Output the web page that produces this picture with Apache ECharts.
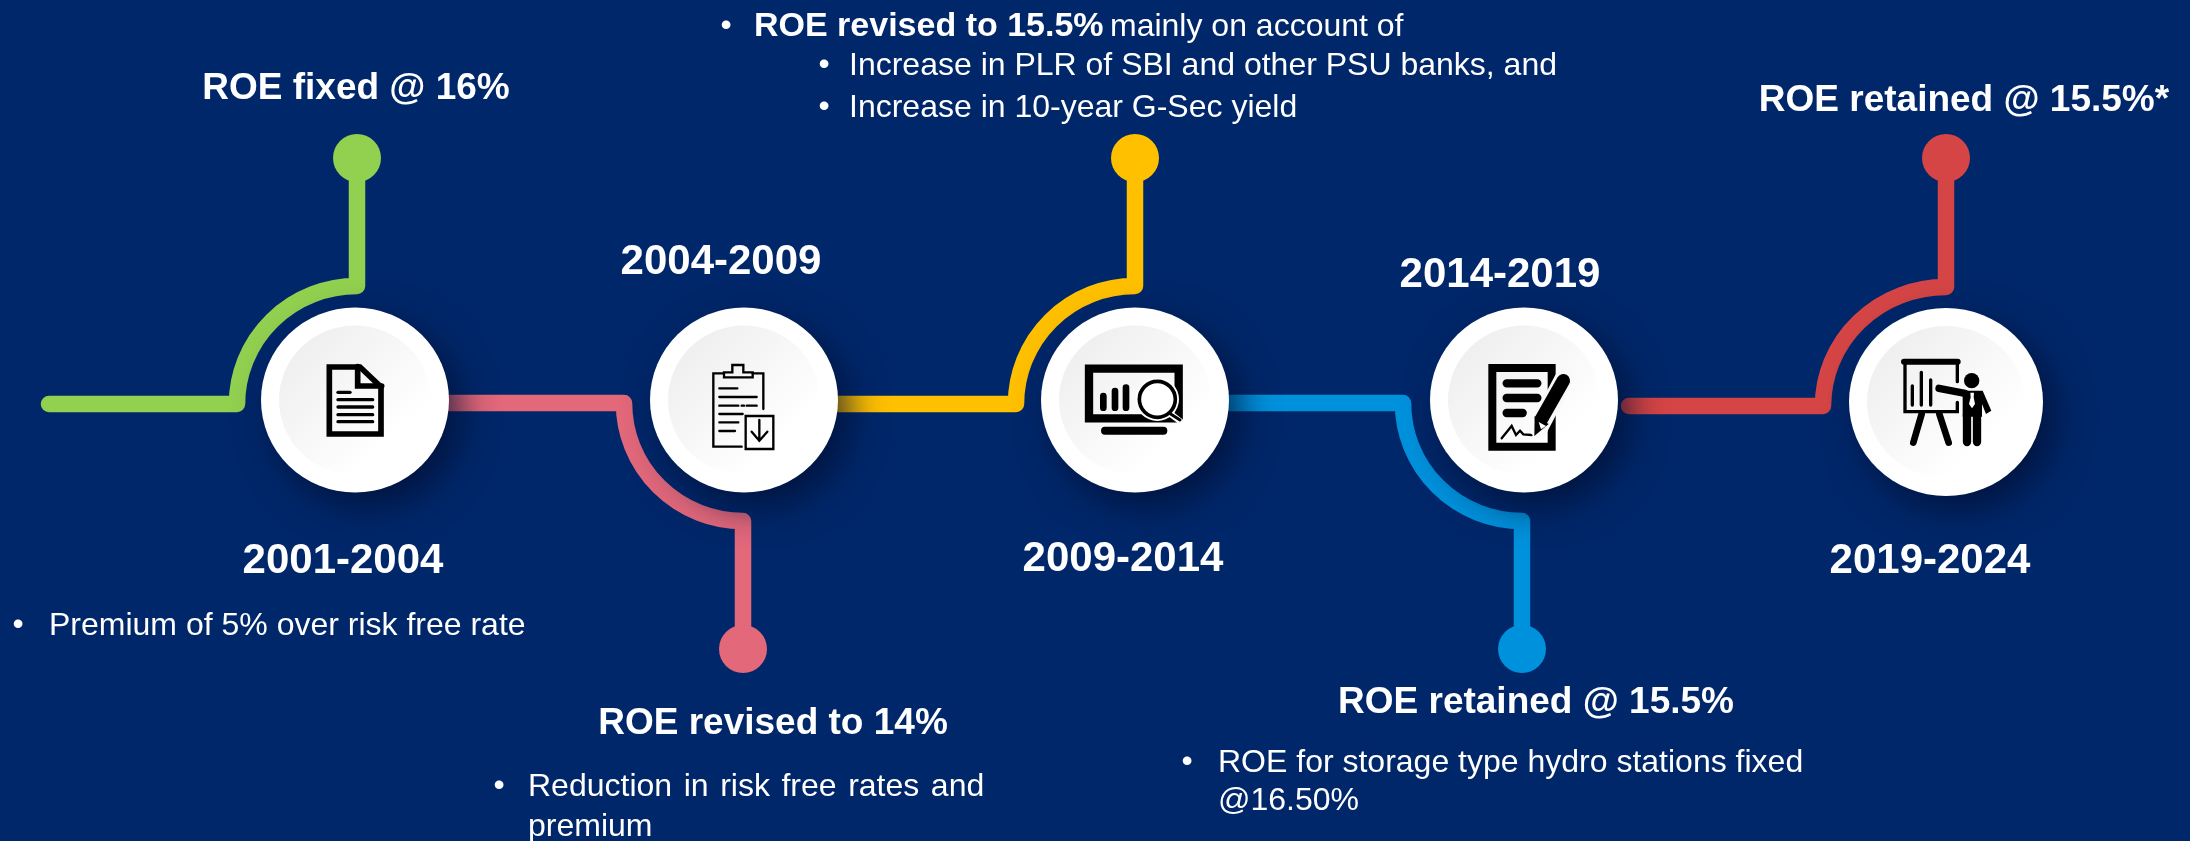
<!DOCTYPE html>
<html>
<head>
<meta charset="utf-8">
<title>ROE timeline</title>
<style>
  html, body { margin: 0; padding: 0; background: #00276a; }
  #chart { width: 2190px; height: 841px; }
</style>
<script src="https://cdn.jsdelivr.net/npm/echarts@6/dist/echarts.min.js"></script>
</head>
<body>
<div id="chart"></div>
<script>
// Content
var periods = ['2001-2004', '2004-2009', '2009-2014', '2014-2019', '2019-2024'];
var headlines = ['ROE fixed @ 16%', 'ROE revised to 14%', '', 'ROE retained @ 15.5%', 'ROE retained @ 15.5%*'];
var noteTexts = [
  'Premium of 5% over risk free rate',
  // hair spaces: this line is justified in the original
  'Reduction \u200ain \u200arisk \u200afree \u200arates \u200aand',
  'premium',
  'ROE revised to 15.5%',
  'mainly on account of',
  'Increase in PLR of SBI and other PSU banks, and',
  'Increase in 10-year G-Sec yield',
  'ROE for storage type hydro stations fixed',
  '@16.50%'
];
var bulletX = [18, 499, 726, 824, 824, 1187];
var bulletY = [625, 786, 26, 65, 107, 762];

// In picture pixels (axes below run 0-2190 and 0-841)
var stageX = [355, 744, 1135, 1524, 1946];
var stageY = [400, 400, 400, 400, 402];
var stageW = [188, 188, 188, 188, 194];
var stageH = [185, 185, 185, 185, 188];
var railStart = [49, 355, 744, 1135, 1629];
var railY = [404, 403, 404, 403, 406];
var elbowX = [237, 624, 1016, 1403, 1823];
var stemX = [357, 743, 1135, 1522, 1946];
var arcEndY = [286, 521, 286, 521, 287];
var dotY = [158, 649, 158, 649, 158];
var periodX = [343, 721, 1123, 1500, 1930];
var periodY = [561, 262, 559, 275, 561];
var headlineX = [356, 773, 0, 1536, 1964];
var headlineY = [89, 724, 0, 703, 101];
var noteX = [49, 528, 528, 754, 1110, 849, 849, 1218, 1218];
var noteY = [626, 787, 827, 27, 27, 66, 108, 763, 801];
var noteBold = [false, false, false, true, false, false, false, false, false];
var iconX = [300, 680, 1060, 1440, 1880];
var iconY = [340, 340, 340, 340, 340];

var stageColors = ['#92d050', '#e2687a', '#ffc000', '#0091dc', '#d54545'];
var fontName = '"Liberation Sans", Arial, sans-serif';

// Icons are drawn in a 390 box (130px at 3x), s = stroke width
function ln(d, s, color) {
  return { d: d, s: s, c: color || '#000' };
}
function blk(d) {
  return { d: d, f: '#000' };
}
function fillWith(d, color) {
  return { d: d, f: color };
}

var icons = [
  // document
  [
    ln('M88 81 H180 L243 141 V282 H88 Z', 17),
    ln('M173 80 V138 H245', 17),
    ln('M114 157 H150', 10),
    ln('M114 179 H218', 10),
    ln('M114 201 H218', 10),
    ln('M114 224 H218', 10),
    ln('M114 245 H218', 10)
  ],
  // clipboard
  [
    ln('M250 207 V100 H218 M132 100 H100 V320 H185', 7),
    ln('M132 112 V97 H157 V75 H190 V97 H218 V112 Z', 7),
    ln('M118 145 H172 M118 171 H230 M118 197 H175 M185 197 H192 M200 197 H230', 7),
    ln('M118 222 H188 M118 247 H175 M118 273 H165', 7),
    ln('M197 228 H280 V327 H197 Z', 7),
    ln('M238 240 V300 M215 275 L238 302 L262 275', 7)
  ],
  // monitor with magnifier
  [
    ln('M87 86 H356 V235 H87 Z', 25),
    ln('M135 272 H310', 24),
    ln('M130 168 V203 M165 153 V203 M198 143 V203', 20),
    fillWith('M227 178 A65 65 0 1 1 357 178 A65 65 0 1 1 227 178 Z', '#ffffff'),
    ln('M332 222 L362 245', 18, '#ffffff'),
    ln('M332 222 L360 240', 9),
    ln('M238 178 A54 54 0 1 1 346 178 A54 54 0 1 1 238 178 Z', 11)
  ],
  // signed document with pen
  [
    ln('M157 84 H335 V320 H157 Z', 24),
    ln('M200 130 H292 M200 174 H292 M200 219 H248', 25),
    ln('M185 295 L215 258 L228 285 L240 272 L250 283 L275 285', 7),
    ln('M372 118 L296 262', 58, '#f9f9f9'),
    ln('M370 122 L304 238', 40),
    blk('M284 228 L326 252 L283 288 Z'),
    fillWith('M296 246 L318 258 L303 268 Z', '#ffffff')
  ],
  // presenter at a board
  [
    ln('M72 65 H233', 18),
    ln('M75 70 V215 H232 V187 M232 70 V125', 10),
    ln('M97 138 V195 M124 97 V195 M152 120 V195', 10),
    ln('M125 222 L100 308 M178 222 L206 308', 20),
    fillWith('M252 122 A23 23 0 1 1 298 122 A23 23 0 1 1 252 122 Z', '#000'),
    ln('M177 145 L255 160', 22),
    blk('M248 152 H308 L334 212 L318 222 L306 192 V230 H248 Z'),
    ln('M261 225 V306 M291 225 V306', 25),
    fillWith('M271 158 H282 L281 172 L285 192 L276 205 L267 192 L272 172 Z', '#ffffff')
  ]
];

function renderConnector(params, api) {
  var i = params.dataIndex;
  var a = api.coord([api.value(0), api.value(1)]);
  var b = api.coord([api.value(2), api.value(1)]);
  var c = api.coord([api.value(3), api.value(4)]);
  var d = api.coord([api.value(3), api.value(5)]);
  var rx = Math.abs(c[0] - b[0]);
  var ry = Math.abs(c[1] - b[1]);
  // bends up on odd stages, down on even ones
  var sweep = c[1] < b[1] ? 1 : 0;
  return {
    type: 'path',
    shape: {
      pathData: 'M' + a[0] + ' ' + a[1] + ' L' + b[0] + ' ' + b[1] +
        ' A' + rx + ' ' + ry + ' 0 0 ' + sweep + ' ' + c[0] + ' ' + c[1] +
        ' L' + d[0] + ' ' + d[1]
    },
    style: {
      fill: 'none',
      stroke: stageColors[i],
      lineWidth: 16.5,
      lineCap: 'round',
      lineJoin: 'round'
    }
  };
}

function renderIcon(params, api) {
  var pos = api.coord([api.value(0), api.value(1)]);
  return {
    type: 'group',
    x: pos[0],
    y: pos[1],
    scaleX: 1 / 3,
    scaleY: 1 / 3,
    children: icons[params.dataIndex].map(function(p) {
      return {
        type: 'path',
        shape: { pathData: p.d },
        style: {
          fill: p.f || 'none',
          stroke: p.c || 'none',
          lineWidth: p.s || 0,
          lineCap: 'round',
          lineJoin: 'miter'
        }
      };
    })
  };
}

function textRenderer(texts, font) {
  return function(params, api) {
    var pos = api.coord([api.value(0), api.value(1)]);
    return {
      type: 'text',
      style: {
        text: texts[params.dataIndex],
        x: pos[0],
        y: pos[1],
        fill: '#ffffff',
        font: font,
        align: 'center',
        verticalAlign: 'middle'
      }
    };
  };
}

function renderNote(params, api) {
  var pos = api.coord([api.value(0), api.value(1)]);
  var bold = noteBold[params.dataIndex];
  return {
    type: 'text',
    style: {
      text: noteTexts[params.dataIndex],
      x: pos[0],
      y: pos[1],
      fill: '#ffffff',
      font: (bold ? 'bold 34px ' : '32px ') + fontName,
      align: 'left',
      verticalAlign: 'middle'
    }
  };
}

function zip(a, b) {
  return a.map(function(v, i) {
    return [v, b[i]];
  });
}

var ichart = echarts.init(document.getElementById('chart'), null, { renderer: 'canvas' });
ichart.setOption({
  backgroundColor: '#00276a',
  animation: false,
  grid: { left: 0, right: 0, top: 0, bottom: 0 },
  xAxis: { type: 'value', min: 0, max: 2190, show: false },
  yAxis: { type: 'value', min: 0, max: 841, inverse: true, show: false },
  series: [{
    name: 'connectors',
    type: 'custom',
    z: 1,
    silent: true,
    clip: false,
    renderItem: renderConnector,
    data: periods.map(function(p, i) {
      return [railStart[i], railY[i], elbowX[i], stemX[i], arcEndY[i], dotY[i]];
    })
  }, {
    name: 'dots',
    type: 'scatter',
    z: 2,
    silent: true,
    symbolSize: 48,
    data: periods.map(function(p, i) {
      return { value: [stemX[i], dotY[i]], itemStyle: { color: stageColors[i], opacity: 1 } };
    })
  }, {
    name: 'discs',
    type: 'scatter',
    z: 3,
    silent: true,
    data: periods.map(function(p, i) {
      return { value: [stageX[i], stageY[i]], symbolSize: [stageW[i], stageH[i]] };
    }),
    itemStyle: {
      color: '#ffffff',
      opacity: 1,
      shadowColor: 'rgba(0, 15, 50, 0.75)',
      shadowBlur: 36,
      shadowOffsetX: 12,
      shadowOffsetY: 14
    }
  }, {
    name: 'discs inner',
    type: 'scatter',
    z: 4,
    silent: true,
    data: periods.map(function(p, i) {
      return { value: [stageX[i], stageY[i]], symbolSize: [stageW[i] - 36, stageH[i] - 36] };
    }),
    itemStyle: {
      opacity: 1,
      color: new echarts.graphic.LinearGradient(0, 0, 1, 1, [
        { offset: 0.1, color: '#eeeeee' },
        { offset: 0.75, color: '#ffffff' }
      ])
    }
  }, {
    name: 'icons',
    type: 'custom',
    z: 5,
    silent: true,
    clip: false,
    renderItem: renderIcon,
    data: zip(iconX, iconY)
  }, {
    name: 'periods',
    type: 'custom',
    z: 6,
    silent: true,
    clip: false,
    renderItem: textRenderer(periods, 'bold 42px ' + fontName),
    data: zip(periodX, periodY)
  }, {
    name: 'headlines',
    type: 'custom',
    z: 6,
    silent: true,
    clip: false,
    renderItem: textRenderer(headlines, 'bold 37px ' + fontName),
    data: zip(headlineX, headlineY)
  }, {
    name: 'notes',
    type: 'custom',
    z: 6,
    silent: true,
    clip: false,
    renderItem: renderNote,
    data: zip(noteX, noteY)
  }, {
    name: 'bullets',
    type: 'custom',
    z: 6,
    silent: true,
    clip: false,
    renderItem: textRenderer(bulletX.map(function() {
      return '\u2022';
    }), '32px ' + fontName),
    data: zip(bulletX, bulletY)
  }]
});
</script>
</body>
</html>
